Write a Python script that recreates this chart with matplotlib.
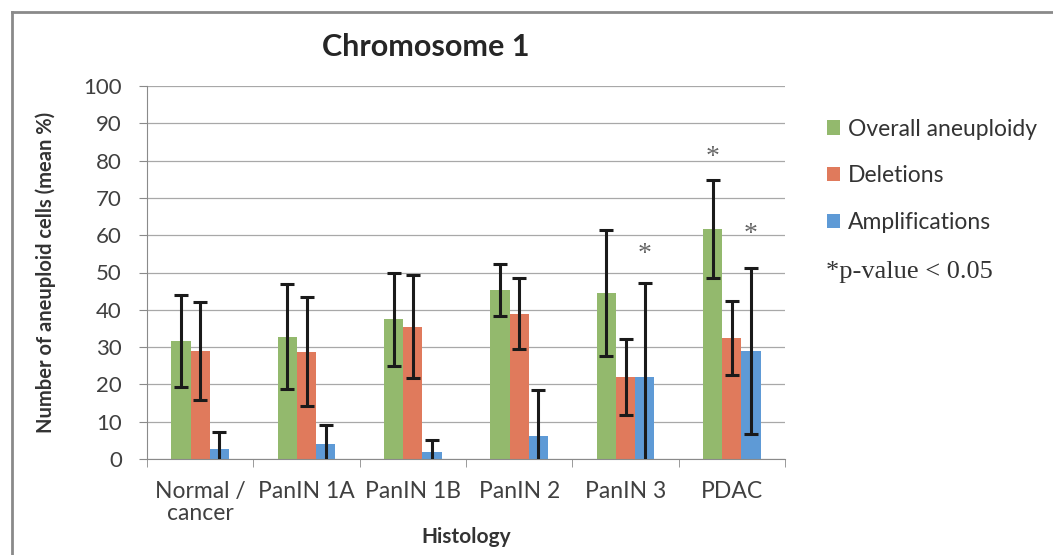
import matplotlib
matplotlib.use("Agg")
import matplotlib.pyplot as plt
import numpy as np
from matplotlib.lines import Line2D
from matplotlib.patches import Patch

categories = ["Normal /\ncancer", "PanIN 1A", "PanIN 1B", "PanIN 2", "PanIN 3", "PDAC"]
series_names = ["Overall aneuploidy", "Deletions", "Amplifications"]
overall = [31.6, 32.8, 37.5, 45.3, 44.5, 61.6]
overall_err = [12.3, 14.0, 12.5, 7.0, 16.9, 13.2]
deletions = [29.0, 28.7, 35.4, 38.9, 22.0, 32.5]
deletions_err = [13.2, 14.6, 13.8, 9.5, 10.3, 9.9]
amplifications = [2.7, 4.0, 2.0, 6.2, 22.0, 29.0]
amplifications_err = [4.5, 5.0, 3.0, 12.3, 25.2, 22.3]
# asterisk markers: (category index, series index, y)
stars = [(4, 2, 56.6), (5, 0, 82.6), (5, 2, 62.0)]

colors = ["#93B96D", "#E07A5C", "#5E9AD6"]
font = ["Lato", "DejaVu Sans"]
plt.rcParams["font.family"] = font

fig = plt.figure(figsize=(10.53, 5.55), dpi=100)
ax = fig.add_axes([147/1053, 1-459/555, (785-147)/1053, (459-86)/555])

x = np.arange(len(categories))
w = 0.18
vals = [overall, deletions, amplifications]
errs = [overall_err, deletions_err, amplifications_err]
for i, (v, e) in enumerate(zip(vals, errs)):
    ax.bar(x + (i-1)*w, v, w, color=colors[i], zorder=2)
    ax.errorbar(x + (i-1)*w, v, yerr=e, fmt="none", ecolor="#1a1a1a",
                elinewidth=2.2, capsize=5, capthick=2.2, zorder=3)

for ci, si, yv in stars:
    ax.annotate("*", (ci + (si-1)*w, yv), xytext=(0, -5), textcoords="offset points",
                ha="center", va="center", fontsize=20,
                color="#666666", family="Liberation Serif")

ax.set_ylim(0, 100)
ax.set_xlim(-0.5, len(categories)-0.5)
ax.set_yticks(np.arange(0, 101, 10))
ax.yaxis.grid(True, color="#a8a8a8", linewidth=0.9, zorder=0)
ax.set_axisbelow(True)
ax.set_xticks(x)
ax.set_xticklabels(categories, fontsize=16.5, color="#404040", linespacing=1.05)
ax.tick_params(axis="x", length=0, pad=16)
ax.set_xticks(np.arange(-0.5, len(categories), 1), minor=True)
ax.tick_params(axis="x", which="minor", length=6, color="#8a8a8a", direction="out")
ax.tick_params(axis="y", labelsize=16, labelcolor="#404040", length=6,
               color="#8a8a8a", direction="out", pad=12)
for s in ["top", "right"]:
    ax.spines[s].set_visible(False)
ax.spines["left"].set_color("#8a8a8a")
ax.spines["bottom"].set_color("#8a8a8a")

ax.set_xlabel("Histology", fontsize=15, fontweight="bold", color="#333333", labelpad=2)
ax.set_ylabel("Number of aneuploid cells (mean %)", fontsize=14.5, fontweight="bold",
              color="#333333", labelpad=20)
fig.text(426/1053, 1-47/555, "Chromosome 1", ha="center", va="center",
         fontsize=22, fontweight="bold", color="#262626")

handles = [Patch(facecolor=c) for c in colors]
leg = fig.legend(handles, series_names, loc="upper left",
                 bbox_to_anchor=(822/1053, 1-114/555), frameon=False,
                 fontsize=16.5, handlelength=0.6, handleheight=0.6,
                 handletextpad=0.35, labelspacing=1.12, borderaxespad=0,
                 borderpad=0.2)
for t in leg.get_texts():
    t.set_color("#333333")
fig.text(826/1053, 1-272/555, "*p-value < 0.05", ha="left", va="center",
         fontsize=19, family="Liberation Serif", color="#333333")

# outer frame
fig.add_artist(Line2D([12/1053, 1], [1-12/555, 1-12/555], color="#8a8a8a", lw=2))
fig.add_artist(Line2D([12/1053, 12/1053], [0, 1-12/555], color="#8a8a8a", lw=2))

fig.savefig("out.png", dpi=100)
